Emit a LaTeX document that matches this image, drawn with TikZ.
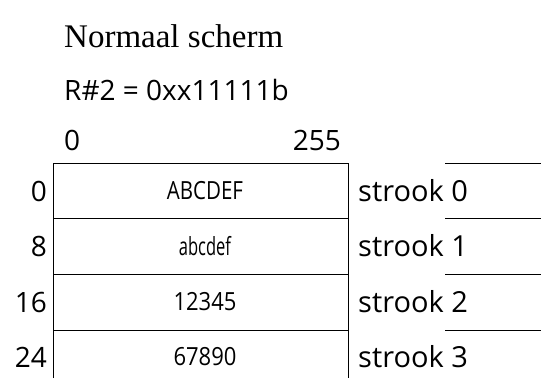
\documentclass[tikz,border=0pt]{standalone}
\usepackage{fontspec}
\usepackage{graphicx}
\setmainfont{Liberation Serif}
\newfontfamily\labelfont{Open Sans}
\begin{document}
\begin{tikzpicture}[x=1pt,y=-1pt,
  lbl/.style={font=\labelfont\fontsize{28}{30}\selectfont, inner sep=0pt},
  cell/.style={font=\labelfont\fontsize{25}{28}\selectfont, inner sep=0pt},
  rule/.style={line width=0.9pt}]
\useasboundingbox (0,0) rectangle (541,378);
% headings
\node[anchor=base west, inner sep=0pt, font=\fontsize{33}{36}\selectfont] (title) at (64,47) {Normaal scherm};
\node[lbl, anchor=base west] (reg) at (64,100) {R\#2 = 0xx11111b};
% column range
\node[lbl, anchor=base west] (c0) at (64,150) {0};
\node[lbl, anchor=base east] (c255) at (341,150) {255};
% frame of the screen
\coordinate (tl) at (53,163);
\coordinate (tr) at (348,163);
\coordinate (bl) at (53,378);
\coordinate (br) at (348,378);
\draw[rule] (bl) -- (tl) -- (tr) -- (br);
\foreach \y in {218,274,330} \draw[rule] (53,\y) -- (348,\y);
% right-hand strips
\foreach \y in {163,218,274,330} \draw[rule] (445,\y) -- (541,\y);
% rows
\foreach \n/\y/\r/\t/\k/\s in {0/191/0/ABCDEF/0.82/0, 1/246/8/abcdef/0.66/1, 2/302/16/12345/0.88/2, 3/357/24/67890/0.88/3} {
  \node[lbl, anchor=east] (row\n) at (47,\y) {\r};
  \node[cell] (txt\n) at (205,\y) {\scalebox{\k}[1]{\t}};
  \node[lbl, anchor=west] (strip\n) at (358,\y) {\fontsize{29}{30}\selectfont strook \s};
}
\end{tikzpicture}
\end{document}
